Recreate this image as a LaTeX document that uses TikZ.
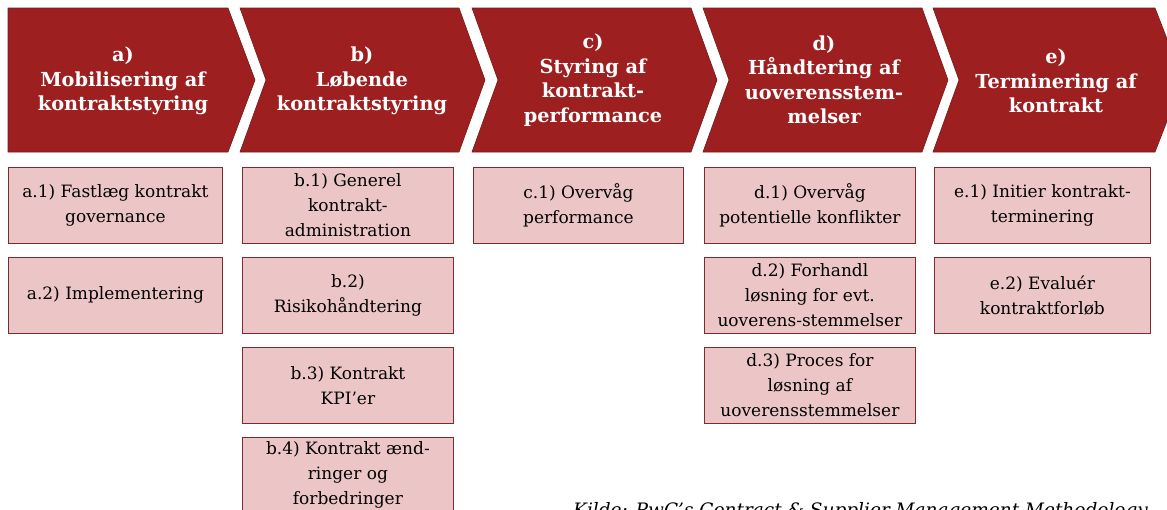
\documentclass[tikz,border=0pt]{standalone}
\usepackage{fontspec}
\setmainfont{DejaVu Serif}
\definecolor{chevred}{RGB}{158,31,32}
\definecolor{chevedge}{RGB}{118,26,27}
\definecolor{boxfill}{RGB}{236,198,198}
\definecolor{boxedge}{RGB}{122,44,44}

\begin{document}
\begin{tikzpicture}[x=1pt,y=-1pt,
  chev/.style={fill=chevred, draw=chevedge, line width=0.6pt, line join=miter},
  chevtext/.style={text=white, font=\fontsize{19.3}{24.5}\selectfont\bfseries, align=center, inner sep=0pt},
  task/.style={draw=boxedge, fill=boxfill, line width=0.8pt, anchor=north west,
    minimum height=76pt, inner sep=0pt, align=center, font=\fontsize{17}{25}\selectfont},
  source/.style={anchor=base west, inner sep=0pt, font=\fontsize{18.5}{20}\selectfont\itshape},
]
\useasboundingbox (0,0) rectangle (1167,509);
\clip (0,0) rectangle (1167,509);

% phase chevrons
\path[chev] (8,8) -- (228,8) -- (255,80) -- (228,152) -- (8,152) -- cycle;
\path[chev] (240,8) -- (459,8) -- (485,80) -- (459,152) -- (240,152) -- (266,80) -- cycle;
\path[chev] (472,8) -- (691,8) -- (717,80) -- (691,152) -- (472,152) -- (498,80) -- cycle;
\path[chev] (703,8) -- (922,8) -- (948,80) -- (922,152) -- (703,152) -- (729,80) -- cycle;
\path[chev] (933,8) -- (1155,8) -- (1183,80) -- (1155,152) -- (933,152) -- (959,80) -- cycle;

\node[chevtext] (pa) at (123,81) {a)\\Mobilisering af\\kontraktstyring};
\node[chevtext] (pb) at (362,81) {b)\\Løbende\\kontraktstyring};
\node[chevtext] (pc) at (593,80) {c)\\Styring af\\kontrakt-\\performance};
\node[chevtext] (pd) at (824,80) {d)\\Håndtering af\\uoverensstem-\\melser};
\node[chevtext] (pe) at (1056,81) {e)\\Terminering af\\kontrakt};

% activity boxes
\node[task, minimum width=214pt] (a1) at (8,167) {a.1) Fastlæg kontrakt\\governance};
\node[task, minimum width=214pt] (a2) at (8,257) {a.2) Implementering};

\node[task, minimum width=211pt] (b1) at (242,167) {b.1) Generel\\kontrakt-\\administration};
\node[task, minimum width=211pt] (b2) at (242,257) {b.2)\\Risikohåndtering};
\node[task, minimum width=211pt] (b3) at (242,347) {b.3) Kontrakt\\KPI’er};
\node[task, minimum width=211pt] (b4) at (242,437) {b.4) Kontrakt ænd-\\ringer og\\forbedringer};

\node[task, minimum width=210pt] (c1) at (473,167) {c.1) Overvåg\\performance};

\node[task, minimum width=211pt] (d1) at (704,167) {d.1) Overvåg\\potentielle konflikter};
\node[task, minimum width=211pt] (d2) at (704,257) {d.2) Forhandl\\løsning for evt.\\uoverens-stemmelser};
\node[task, minimum width=211pt] (d3) at (704,347) {d.3) Proces for\\løsning af\\uoverensstemmelser};

\node[task, minimum width=216pt] (e1) at (934,167) {e.1) Initier kontrakt-\\terminering};
\node[task, minimum width=216pt] (e2) at (934,257) {e.2) Evaluér\\kontraktforløb};

% source line, running off the lower edge
\node[source] (src) at (573,516) {Kilde: PwC’s Contract \& Supplier Management Methodology};
\end{tikzpicture}
\end{document}
